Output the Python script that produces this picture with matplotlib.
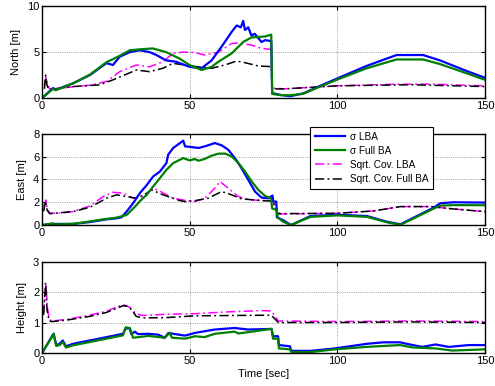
import numpy as np
import matplotlib.pyplot as plt

plt.rcParams["font.family"] = ["Liberation Sans", "DejaVu Sans"]

BLUE, GREEN, MAGENTA, BLACK = "#0000ff", "#008000", "#ff00ff", "#000000"
DASHDOT = (0, (6, 2.2, 1.2, 2.2))

# ---------------- North ----------------
n_t_lba = [0, 3.7, 4.6, 10.5, 16.2, 21.8, 24, 26.3, 29.7, 33, 36.4, 38.6, 42, 45.4, 49.9,
           54, 57.4, 60.8, 64.2, 65.9, 67.3, 68.1, 68.7, 69.8, 70.9, 72, 74.3, 75.5, 77.6,
           77.9, 80.5, 84, 88.4, 92.9, 99.7, 109.9, 120, 129, 134.7, 143.7, 150]
n_lba = [0, 1.08, 0.9, 1.6, 2.5, 3.8, 3.6, 4.5, 5.0, 5.2, 5.0, 4.7, 4.1, 3.95, 3.4,
         3.24, 4.1, 5.6, 7.2, 7.9, 7.7, 8.4, 7.4, 7.7, 6.8, 7.0, 6.1, 6.3, 6.2,
         0.55, 0.35, 0.2, 0.5, 1.15, 2.1, 3.5, 4.68, 4.68, 4.1, 2.95, 2.2]
n_t_full = [0, 3.7, 4.6, 10.5, 16.2, 21.8, 26.3, 29.7, 33, 37.5, 42, 46.5, 49.9,
            54, 57.4, 59.7, 64.2, 68.1, 70.9, 75.4, 77.6,
            77.9, 80.5, 83.9, 88.4, 92.9, 99.7, 109.9, 120, 129, 134.7, 143.7, 150]
n_full = [0, 1.0, 0.85, 1.6, 2.55, 3.9, 4.6, 5.2, 5.3, 5.4, 5.0, 4.3, 3.6,
          3.05, 3.4, 3.95, 4.86, 6.1, 6.6, 6.7, 6.9,
          0.45, 0.32, 0.3, 0.46, 1.08, 1.98, 3.24, 4.2, 4.2, 3.7, 2.7, 1.98]
n_t_clba = [0.8, 1.3, 1.8, 2.5, 6, 16.2, 21.8, 26.3, 31.9, 36.4, 40.9, 44.3, 47.7,
            51.7, 55.1, 59.7, 64.2, 66.5, 70.9, 74.3, 77.6, 77.9, 82, 99.7, 120, 132, 150]
n_clba = [1.4, 2.3, 1.6, 1.0, 1.08, 1.4, 1.8, 2.87, 3.6, 3.4, 3.95, 4.86, 5.0,
          4.95, 4.68, 5.0, 5.94, 6.0, 5.76, 5.4, 5.3, 1.08, 1.0, 1.33, 1.51, 1.51, 1.33]
n_t_cfull = [0.8, 1.2, 1.6, 2.2, 6, 10.5, 19.5, 24, 28.6, 31.9, 36.4, 40.9, 44.3, 48.3,
             52.8, 57.4, 61.9, 65.9, 68.7, 73.2, 77.6, 77.9, 82, 100, 125, 150]
n_cfull = [1.0, 2.5, 1.5, 0.9, 1.08, 1.25, 1.44, 1.98, 2.6, 3.05, 2.87, 3.24, 3.78, 3.6,
           3.4, 3.24, 3.6, 4.03, 3.85, 3.49, 3.42, 1.0, 1.0, 1.33, 1.45, 1.25]

# ---------------- East ----------------
e_t_lba = [0, 3.7, 10.5, 16.2, 21.8, 25.2, 26.9, 28.6, 30.8, 33.1, 35.4, 37.6, 39.9,
           42.1, 42.7, 44.4, 47.8, 48.4, 53, 55, 58.5, 60.8, 63, 65.3, 67.5, 69.8,
           72.1, 74.3, 76.6, 78, 78.3, 79.3, 79.5, 81.5, 84.3, 90.9, 99.9, 110, 116.8,
           121.3, 126.9, 132.6, 134.8, 139.4, 150]
e_lba = [0, 0.1, 0.1, 0.26, 0.5, 0.59, 0.68, 1.18, 1.91, 2.8, 3.5, 4.26, 4.7,
         5.44, 6.18, 6.77, 7.41, 6.91, 6.77, 6.9, 7.2, 7.0, 6.62, 5.88, 5.0, 3.97,
         2.94, 2.41, 2.35, 2.59, 2.06, 2.06, 0.68, 0.44, 0.0, 0.79, 0.91, 0.79, 0.29,
         0.06, 0.79, 1.53, 1.91, 2.0, 1.97]
e_t_full = [0, 3.7, 4.2, 10.5, 21.8, 25.2, 28.6, 32, 33.1, 35.4, 37.6, 39.9, 42.1,
            44.4, 47.8, 50, 51.7, 53, 55, 57.4, 59.7, 62, 64.2, 66.5, 68.7, 71,
            73.2, 75.5, 77.5, 77.9, 79.4, 79.8, 81.5, 84.3, 90.9, 99.9, 110, 116.8,
            121.3, 126.9, 132.6, 134.8, 139.4, 150]
e_full = [0, 0.15, 0.05, 0.1, 0.54, 0.65, 0.88, 1.76, 2.1, 2.65, 3.38, 4.12, 4.85,
          5.44, 5.88, 5.67, 5.8, 5.65, 5.8, 6.09, 6.27, 6.27, 6.03, 5.44, 4.7, 3.82,
          3.09, 2.56, 2.35, 1.47, 1.3, 0.68, 0.3, 0.0, 0.72, 0.85, 0.72, 0.24,
          0.02, 0.72, 1.45, 1.7, 1.75, 1.74]
e_t_clba = [0.5, 1.3, 1.8, 2.6, 6, 10.5, 16.2, 20.7, 24, 27.5, 30.8, 34.2, 37.6, 39.9,
            44.4, 48.9, 51.7, 55.1, 58.5, 60.2, 63, 66.5, 69.8, 74.3, 78, 79.8, 80.5,
            99.9, 112.3, 121.3, 131.5, 139.4, 150]
e_clba = [1.6, 2.2, 1.4, 1.03, 1.05, 1.18, 1.68, 2.5, 2.88, 2.79, 2.35, 2.5, 3.24, 2.97,
          2.35, 2.15, 2.06, 2.35, 3.24, 3.82, 3.24, 2.5, 2.24, 2.15, 2.15, 1.32, 0.97,
          1.03, 1.24, 1.62, 1.62, 1.41, 1.18]
e_t_cfull = [0.5, 1.2, 1.7, 2.6, 10.5, 16.2, 21.8, 25.2, 28.6, 32, 35.4, 37, 41,
             46.6, 48.3, 52, 56.2, 60.8, 64.2, 67.5, 74.3, 78, 79.9, 99.9, 112.3,
             121.3, 131.5, 139.4, 150]
e_cfull = [1.2, 2.1, 1.3, 1.0, 1.18, 1.56, 2.35, 2.65, 2.5, 2.35, 2.79, 3.09, 2.65,
           2.15, 2.06, 2.15, 2.35, 2.94, 2.65, 2.3, 2.15, 2.1, 1.0, 1.03, 1.24,
           1.62, 1.62, 1.41, 1.18]

# ---------------- Height ----------------
h_t_lba = [0, 3.9, 4.8, 5.9, 7.0, 8.1, 10.4, 16.1, 21.8, 27.4, 28.3, 29.7, 30.2, 31.4,
           32.5, 36, 39.4, 41.5, 42.8, 45, 48.4, 51.8, 58.5, 65.2, 69.8, 77.7, 78.2,
           79.9, 80.2, 83.9, 84.4, 91, 99.1, 109.9, 115.5, 121.2, 123.5, 128.7,
           133.2, 137.7, 144.5, 150]
h_lba = [0, 0.63, 0.26, 0.3, 0.41, 0.22, 0.3, 0.41, 0.52, 0.63, 0.81, 0.8, 0.62, 0.7,
         0.62, 0.63, 0.6, 0.5, 0.66, 0.62, 0.57, 0.66, 0.77, 0.82, 0.77, 0.79, 0.55,
         0.55, 0.26, 0.22, 0.07, 0.07, 0.15, 0.3, 0.35, 0.35, 0.3, 0.2,
         0.28, 0.2, 0.26, 0.26]
h_t_full = [0, 3.9, 4.8, 5.9, 7.0, 8.1, 10.4, 16.1, 21.8, 27.4, 28.3, 29.7, 30.8,
            36, 41.5, 43.2, 44, 48.4, 51.8, 55, 58.5, 65.2, 66.5, 77.7, 78.2,
            79.9, 80.2, 83.9, 84.4, 91, 99.1, 109.9, 121.2, 125.5, 133.2, 138.9,
            144.5, 150]
h_full = [0, 0.63, 0.23, 0.26, 0.36, 0.18, 0.25, 0.36, 0.47, 0.58, 0.84, 0.82, 0.5,
          0.56, 0.5, 0.66, 0.5, 0.47, 0.55, 0.52, 0.63, 0.7, 0.64, 0.79, 0.47,
          0.47, 0.15, 0.12, 0.03, 0.03, 0.12, 0.2, 0.26, 0.18, 0.15, 0.08,
          0.1, 0.12]
h_t_clba = [0.5, 1.3, 1.8, 2.4, 3.3, 8.4, 16.1, 21.8, 27.4, 29.7, 31.9, 34.2, 42,
            51.8, 63, 74.2, 77.6, 80, 100, 125, 150]
h_clba = [1.3, 2.26, 1.5, 1.1, 1.05, 1.1, 1.24, 1.37, 1.59, 1.5, 1.28, 1.23, 1.27,
          1.29, 1.35, 1.39, 1.38, 1.05, 1.03, 1.05, 1.03]
h_t_cfull = [0.5, 1.2, 1.7, 2.4, 3.3, 8.4, 16.1, 21.8, 27.4, 29.2, 30.8, 31.9, 34.2,
             42, 51.8, 77.6, 80, 100, 125, 150]
h_cfull = [1.25, 2.3, 1.4, 1.05, 1.03, 1.08, 1.2, 1.33, 1.55, 1.53, 1.35, 1.2, 1.15,
           1.16, 1.22, 1.24, 1.0, 1.0, 1.02, 1.0]

PANELS = [
    ("North [m]", [0, 10], [0, 5, 10],
     (n_t_lba, n_lba), (n_t_full, n_full), (n_t_clba, n_clba), (n_t_cfull, n_cfull)),
    ("East [m]", [0, 8], [0, 2, 4, 6, 8],
     (e_t_lba, e_lba), (e_t_full, e_full), (e_t_clba, e_clba), (e_t_cfull, e_cfull)),
    ("Height [m]", [0, 3], [0, 1, 2, 3],
     (h_t_lba, h_lba), (h_t_full, h_full), (h_t_clba, h_clba), (h_t_cfull, h_cfull)),
]

fig = plt.figure(figsize=(4.95, 3.86), dpi=100)
fig.patch.set_facecolor("white")
rects = [(0.085, 0.746, 0.895, 0.238),
         (0.085, 0.417, 0.895, 0.236),
         (0.085, 0.0855, 0.895, 0.237)]

handles = None
for rect, (ylab, ylim, yticks, lba, full, clba, cfull) in zip(rects, PANELS):
    ax = fig.add_axes(rect)
    h3, = ax.plot(*clba, color=MAGENTA, lw=1.1, ls=DASHDOT, label="Sqrt. Cov. LBA")
    h4, = ax.plot(*cfull, color=BLACK, lw=1.1, ls=DASHDOT, label="Sqrt. Cov. Full BA")
    h1, = ax.plot(*lba, color=BLUE, lw=1.6, label="σ LBA")
    h2, = ax.plot(*full, color=GREEN, lw=1.6, label="σ Full BA")
    handles = [h1, h2, h3, h4]
    ax.set_xlim(0, 150)
    ax.set_ylim(*ylim)
    ax.set_xticks([0, 50, 100, 150])
    ax.set_yticks(yticks)
    ax.grid(True, ls=":", color="0.5", lw=0.6)
    ax.set_axisbelow(True)
    ax.tick_params(direction="in", top=True, right=True, labelsize=8, length=3,
                   width=0.8, pad=2)
    for s in ax.spines.values():
        s.set_linewidth(1.0)
    ax.set_ylabel(ylab, fontsize=8, labelpad=4)
    if ylab.startswith("Height"):
        ax.set_xlabel("Time [sec]", fontsize=8, labelpad=2)

leg = fig.legend(handles=handles, loc="upper left",
                 bbox_to_anchor=(305 / 495, 1 - 122 / 386),
                 fontsize=7.2, frameon=True, fancybox=False, edgecolor="black",
                 framealpha=1, handlelength=3.0, handletextpad=0.5,
                 borderpad=0.45, labelspacing=0.42)
leg.get_frame().set_linewidth(0.8)

fig.savefig("out.png", dpi=100, facecolor="white")
